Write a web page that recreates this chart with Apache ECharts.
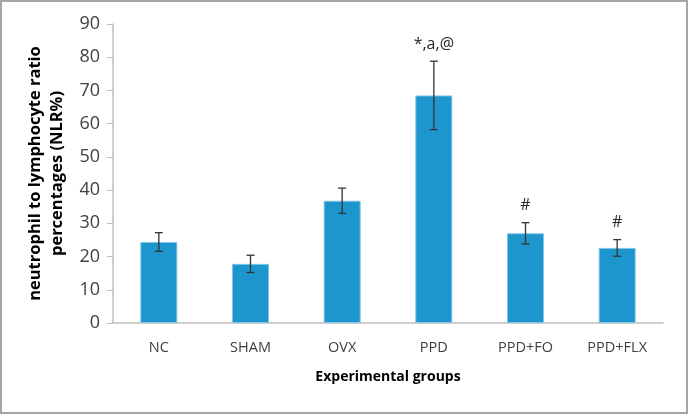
<!DOCTYPE html>
<html>
<head>
<meta charset="utf-8">
<style>
  html, body { margin: 0; padding: 0; background: #fff; }
  #chart { width: 688px; height: 414px; box-sizing: border-box; border: 2px solid #a6a6a6; }
</style>
<script src="https://cdn.jsdelivr.net/npm/echarts@6/dist/echarts.min.js"></script>
</head>
<body>
<div id="chart"></div>
<script>
// data
var groups = ['NC', 'SHAM', 'OVX', 'PPD', 'PPD+FO', 'PPD+FLX'];
var nlrMean = [24.4, 17.8, 36.8, 68.5, 27.0, 22.6];
var nlrErr = [2.8, 2.6, 3.8, 10.3, 3.2, 2.5];
var marks = ['', '', '', '*,a,@', '#', '#'];
var yTicks = [0, 10, 20, 30, 40, 50, 60, 70, 80, 90];

var chart = echarts.init(document.getElementById('chart'));

var errData = groups.map(function (g, i) {
    return [i, nlrMean[i] - nlrErr[i], nlrMean[i] + nlrErr[i], marks[i]];
});

var option = {
    animation: false,
    grid: { left: 111, right: 23, top: 22, bottom: 89 },
    xAxis: {
        type: 'category',
        data: groups,
        name: 'Experimental groups',
        nameLocation: 'middle',
        nameGap: 47,
        nameTextStyle: { fontFamily: 'Open Sans', fontWeight: 'bold', fontSize: 14, color: '#000' },
        axisLine: { lineStyle: { color: '#bfbfbf', width: 1.5 } },
        axisTick: { show: false },
        axisLabel: { fontFamily: 'Open Sans', fontSize: 14.5, color: '#404040', margin: 17 }
    },
    yAxis: {
        type: 'value',
        min: yTicks[0],
        max: yTicks[yTicks.length - 1],
        interval: 10,
        name: 'neutrophil to lymphocyte ratio\npercentages (NLR%)',
        nameLocation: 'middle',
        nameGap: 38,
        nameTextStyle: { fontFamily: 'Open Sans', fontWeight: 'bold', fontSize: 16.5, color: '#000', lineHeight: 22 },
        axisLine: { show: true, lineStyle: { color: '#bfbfbf', width: 1.5 } },
        axisTick: { show: true, length: 6, lineStyle: { color: '#bfbfbf' } },
        axisLabel: { fontFamily: 'Open Sans', fontSize: 18, color: '#404040', margin: 13 },
        splitLine: { show: false }
    },
    series: [
        {
            type: 'bar',
            data: nlrMean,
            barWidth: 37,
            itemStyle: { color: '#1c96cc', borderColor: '#7fc6e6', borderWidth: 1 }
        },
        {
            type: 'custom',
            data: errData,
            z: 10,
            renderItem: function (params, api) {
                var x = api.value(0);
                var lo = api.coord([x, api.value(1)]);
                var hi = api.coord([x, api.value(2)]);
                var cap = 4;
                var st = { stroke: '#333', lineWidth: 1.3 };
                return {
                    type: 'group',
                    children: [
                        { type: 'line', shape: { x1: lo[0], y1: lo[1], x2: hi[0], y2: hi[1] }, style: st },
                        { type: 'line', shape: { x1: lo[0] - cap, y1: lo[1], x2: lo[0] + cap, y2: lo[1] }, style: st },
                        { type: 'line', shape: { x1: hi[0] - cap, y1: hi[1], x2: hi[0] + cap, y2: hi[1] }, style: st },
                        {
                            type: 'text',
                            x: hi[0], y: hi[1] - 9,
                            style: {
                                text: api.value(3),
                                fill: '#262626',
                                font: '16px "Open Sans"',
                                align: 'center',
                                verticalAlign: 'bottom'
                            }
                        }
                    ]
                };
            }
        }
    ]
};

chart.setOption(option);
</script>
</body>
</html>
